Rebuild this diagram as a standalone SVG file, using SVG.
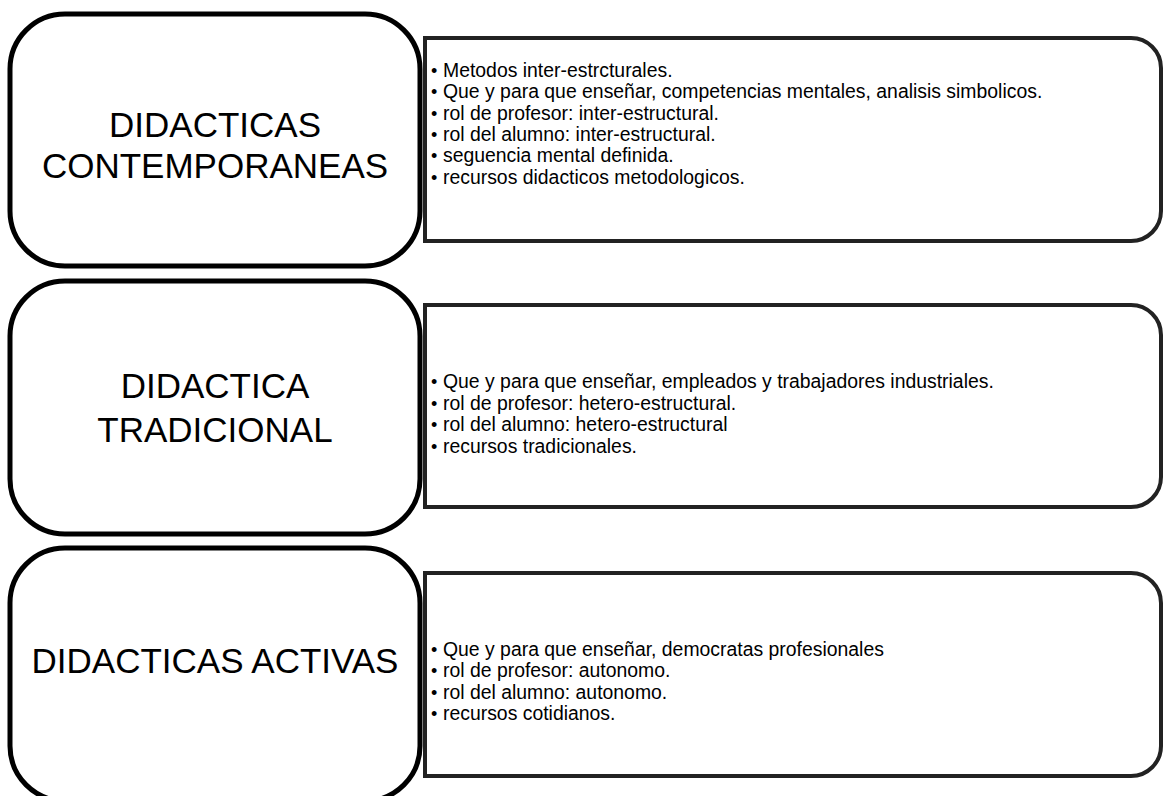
<svg xmlns="http://www.w3.org/2000/svg" width="1165" height="796" viewBox="0 0 1165 796">
<style>
.lbox{fill:#fff;stroke:#000;stroke-width:5}
.rbox{fill:#fff;stroke:#222;stroke-width:4}
.title{font-family:"Liberation Sans",Arial,sans-serif;font-size:35px;fill:#000;text-anchor:middle}
.item{font-family:"Liberation Sans",Arial,sans-serif;font-size:19.4px;fill:#000}
.bul{font-family:"Liberation Sans",Arial,sans-serif;font-size:18px;fill:#000}
</style>
<rect width="1165" height="796" fill="#fff"/>
<g id="connectors"></g>
<g id="detail1">
<path class="rbox" d="M425,38 H1131 A30,30 0 0 1 1161,68 V211 A30,30 0 0 1 1131,241 H425 Z"/>
<g class="item">
<text x="443" y="77">Metodos inter-estrcturales.</text>
<text x="443" y="98">Que y para que enseñar, competencias mentales, analisis simbolicos.</text>
<text x="443" y="119.5">rol de profesor: inter-estructural.</text>
<text x="443" y="141">rol del alumno: inter-estructural.</text>
<text x="443" y="162">seguencia mental definida.</text>
<text x="443" y="183.5">recursos didacticos metodologicos.</text>
</g>
<g class="bul">
<text x="431" y="77">•</text><text x="431" y="98">•</text><text x="431" y="119.5">•</text><text x="431" y="141">•</text><text x="431" y="162">•</text><text x="431" y="183.5">•</text>
</g>
</g>
<g id="node1">
<rect class="lbox" x="10" y="14" width="410" height="252" rx="55" ry="55"/>
<text class="title" x="215" y="137">DIDACTICAS</text>
<text class="title" x="215" y="178">CONTEMPORANEAS</text>
</g>
<g id="detail2">
<path class="rbox" d="M425,305 H1131 A30,30 0 0 1 1161,335 V477 A30,30 0 0 1 1131,507 H425 Z"/>
<g class="item">
<text x="443" y="388">Que y para que enseñar, empleados y trabajadores industriales.</text>
<text x="443" y="409.5">rol de profesor: hetero-estructural.</text>
<text x="443" y="431">rol del alumno: hetero-estructural</text>
<text x="443" y="452.5">recursos tradicionales.</text>
</g>
<g class="bul">
<text x="431" y="388">•</text><text x="431" y="409.5">•</text><text x="431" y="431">•</text><text x="431" y="452.5">•</text>
</g>
</g>
<g id="node2">
<rect class="lbox" x="10" y="281" width="410" height="253" rx="55" ry="55"/>
<text class="title" x="215" y="398">DIDACTICA</text>
<text class="title" x="215" y="442">TRADICIONAL</text>
</g>
<g id="detail3">
<path class="rbox" d="M425,573 H1131 A30,30 0 0 1 1161,603 V746 A30,30 0 0 1 1131,776 H425 Z"/>
<g class="item">
<text x="443" y="655.5">Que y para que enseñar, democratas profesionales</text>
<text x="443" y="677">rol de profesor: autonomo.</text>
<text x="443" y="698.5">rol del alumno: autonomo.</text>
<text x="443" y="720">recursos cotidianos.</text>
</g>
<g class="bul">
<text x="431" y="655.5">•</text><text x="431" y="677">•</text><text x="431" y="698.5">•</text><text x="431" y="720">•</text>
</g>
</g>
<g id="node3">
<rect class="lbox" x="10" y="548" width="410" height="253" rx="55" ry="55"/>
<text class="title" x="215" y="673">DIDACTICAS ACTIVAS</text>
</g>
</svg>
